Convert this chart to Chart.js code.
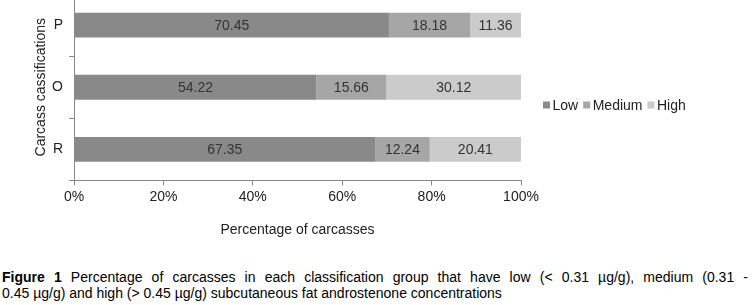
<!DOCTYPE html>
<html>
<head>
<meta charset="utf-8">
<script src="https://cdn.jsdelivr.net/npm/chart.js@4.4.0/dist/chart.umd.min.js"></script>
<style>
  html, body { margin: 0; padding: 0; background: #fff; }
  body { width: 753px; height: 305px; overflow: hidden; position: relative; font-family: "Liberation Sans", Arial, sans-serif; }
  #wrap { position: absolute; left: 0; top: -6px; width: 753px; height: 250px; }
  #caption { position: absolute; left: 2px; top: 269px; width: 746px; font-size: 14px; line-height: 16px; color: #000; }
  #caption .l1 { text-align: justify; text-align-last: justify; white-space: normal; }
  #caption .l2 { white-space: nowrap; }
</style>
</head>
<body>
<div id="wrap"><canvas id="dataChart"></canvas></div>
<div id="caption">
  <div class="l1"><b>Figure 1</b> Percentage of carcasses in each classification group that have low (&lt; 0.31 µg/g), medium (0.31 -</div>
  <div class="l2">0.45 µg/g) and high (&gt; 0.45 µg/g) subcutaneous fat androstenone concentrations</div>
</div>
<script>
  const categories = ['P', 'O', 'R'];
  const lowValues    = [70.45, 54.22, 67.35];
  const mediumValues = [18.18, 15.66, 12.24];
  const highValues   = [11.36, 30.12, 20.41];
  const seriesNames  = ['Low', 'Medium', 'High'];
  const xTicks = [0, 20, 40, 60, 80, 100];

  const font = '"Liberation Sans", Arial, sans-serif';
  const axisColor = '#888888';

  // value labels in the middle of each segment
  const segmentLabels = {
    id: 'segmentLabels',
    afterDatasetsDraw(chart) {
      const ctx = chart.ctx;
      ctx.save();
      ctx.font = '14px ' + font;
      ctx.fillStyle = '#333333';
      ctx.textAlign = 'center';
      ctx.textBaseline = 'middle';
      chart.data.datasets.forEach((ds, i) => {
        chart.getDatasetMeta(i).data.forEach((bar, j) => {
          const p = bar.getProps(['x', 'y', 'base'], true);
          ctx.fillText(ds.data[j].toFixed(2), (p.x + p.base) / 2, p.y + 1);
        });
      });
      ctx.restore();
    }
  };

  // one-row legend to the right of the plot
  const rowLegend = {
    id: 'rowLegend',
    afterDraw(chart) {
      const ctx = chart.ctx;
      const area = chart.chartArea;
      let x = area.right + 22;
      const y = 111;
      ctx.save();
      ctx.font = '14px ' + font;
      ctx.textBaseline = 'middle';
      chart.data.datasets.forEach(ds => {
        ctx.fillStyle = ds.backgroundColor;
        ctx.fillRect(x, y - 3.5, 7, 7);
        x += 9.5;
        ctx.fillStyle = '#222222';
        ctx.fillText(ds.label, x, y + 1);
        x += ctx.measureText(ds.label).width + 5;
      });
      ctx.restore();
    }
  };

  const ctx = document.getElementById('dataChart').getContext('2d');
  new Chart(ctx, {
    type: 'bar',
    data: {
      labels: categories,
      datasets: [
        { label: seriesNames[0], data: lowValues,    backgroundColor: '#898989' },
        { label: seriesNames[1], data: mediumValues, backgroundColor: '#a6a6a6' },
        { label: seriesNames[2], data: highValues,   backgroundColor: '#cbcbcb' }
      ]
    },
    options: {
      indexAxis: 'y',
      responsive: true,
      maintainAspectRatio: false,
      animation: false,
      layout: { padding: { left: 0, right: 232, top: 0, bottom: 0 } },
      datasets: { bar: { barPercentage: 0.4, categoryPercentage: 1, borderWidth: 0 } },
      plugins: {
        legend: { display: false },
        tooltip: { enabled: false }
      },
      scales: {
        x: {
          stacked: true,
          min: 0,
          max: 100,
          afterBuildTicks: scale => { scale.ticks = xTicks.map(v => ({ value: v })); },
          ticks: {
            callback: v => v + '%',
            color: '#222222',
            font: { family: font, size: 14 },
            padding: 3,
            maxRotation: 0
          },
          grid: { drawOnChartArea: false, drawTicks: true, tickLength: 5, color: axisColor },
          border: { color: axisColor },
          title: {
            display: true,
            text: 'Percentage of carcasses',
            color: '#222222',
            font: { family: font, size: 14 },
            padding: { top: 14, bottom: 5 }
          }
        },
        y: {
          stacked: true,
          afterFit: scale => {
            scale.width = 74;
            scale.paddingTop = 0;
            scale.paddingBottom = 0;
          },
          ticks: {
            color: '#222222',
            font: { family: font, size: 14 },
            padding: 6
          },
          grid: { drawOnChartArea: false, drawTicks: true, tickLength: 5, offset: true, color: axisColor },
          border: { color: axisColor },
          title: {
            display: true,
            text: 'Carcass cassifications',
            color: '#222222',
            font: { family: font, size: 14 },
            padding: { top: 33, bottom: 0 }
          }
        }
      }
    },
    plugins: [segmentLabels, rowLegend]
  });
</script>
</body>
</html>
